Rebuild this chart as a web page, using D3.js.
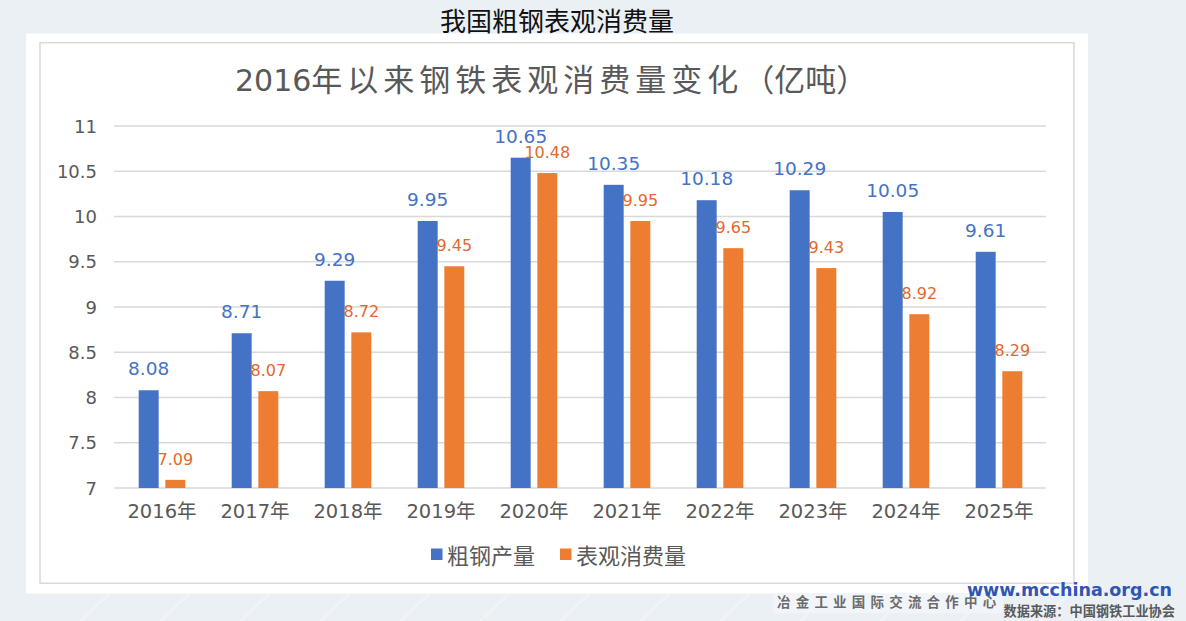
<!DOCTYPE html>
<html>
<head>
<meta charset="utf-8">
<script src="https://cdn.jsdelivr.net/npm/d3@7.9.0/dist/d3.min.js"></script>
<style>
  html, body { margin: 0; padding: 0; background: #ebf0f4; }
  svg { display: block; }
  text { font-family: "DejaVu Sans", "Noto Sans CJK SC", sans-serif; }
  .cjk { font-family: "Noto Sans CJK SC", sans-serif; }
</style>
</head>
<body>
<svg width="1186" height="621"></svg>
<script>
// chart data (亿吨)
const years = ["2016年", "2017年", "2018年", "2019年", "2020年", "2021年", "2022年", "2023年", "2024年", "2025年"];
const crudeSteel = [8.08, 8.71, 9.29, 9.95, 10.65, 10.35, 10.18, 10.29, 10.05, 9.61];
const apparentUse = [7.09, 8.07, 8.72, 9.45, 10.48, 9.95, 9.65, 9.43, 8.92, 8.29];
const yTicks = [7, 7.5, 8, 8.5, 9, 9.5, 10, 10.5, 11];
const seriesNames = ["粗钢产量", "表观消费量"];
const seriesColors = ["#4472C4", "#ED7D31"];
const labelColors = ["#4472C4", "#E2692C"];

let svg = d3.select("svg");

// page frame
svg.append("rect").attr("x", 0).attr("y", 0).attr("width", 1186).attr("height", 621).attr("fill", "#ebf0f4");

// faint streaks at the bottom
for (let i = 0; i < 14; i++) {
    svg.append("line")
        .attr("x1", 80 + i * 80).attr("y1", 621)
        .attr("x2", 110 + i * 80).attr("y2", 593)
        .attr("stroke", "#f4f7fa").attr("stroke-width", 2).attr("opacity", 0.8);
}

svg.append("rect").attr("x", 26).attr("y", 33.5).attr("width", 1062).attr("height", 560).attr("fill", "#fff");
svg.append("rect").attr("x", 40).attr("y", 42.7).attr("width", 1034).attr("height", 540.6)
    .attr("fill", "#fff").attr("stroke", "#d9d9d9").attr("stroke-width", 1.5);

// top heading
svg.append("text")
    .attr("class", "cjk")
    .attr("x", 557).attr("y", 19.5)
    .attr("text-anchor", "middle").attr("dominant-baseline", "central")
    .attr("font-size", 26).attr("fill", "#111")
    .text("我国粗钢表观消费量");

// chart title
let title = svg.append("text")
    .attr("x", 235).attr("y", 91)
    .attr("font-size", 30).attr("fill", "#595959");
title.append("tspan").text("2016");
title.append("tspan").attr("class", "cjk").attr("font-size", 31).attr("letter-spacing", 5).text("年以来钢铁表观消费量变化");
title.append("tspan").attr("class", "cjk").attr("font-size", 31).text("（亿吨）");

// scales
let x = d3.scaleBand().domain(years).range([115.5, 1045.5]);
let xSeries = d3.scaleBand().domain([0, 1])
    .range([x.bandwidth() / 2 - 23.3, x.bandwidth() / 2 + 23.3])
    .paddingInner(0.25);
let y = d3.scaleLinear().domain([7, 11]).range([488, 126]);

// gridlines
svg.append("g")
    .selectAll("line")
    .data(yTicks)
    .join("line")
    .attr("x1", 114).attr("x2", 1046)
    .attr("y1", d => y(d)).attr("y2", d => y(d))
    .attr("stroke", "#d9d9d9").attr("stroke-width", 1.3);

// y tick labels
svg.append("g")
    .selectAll("text")
    .data(yTicks)
    .join("text")
    .attr("x", 97).attr("y", d => y(d))
    .attr("text-anchor", "end").attr("dominant-baseline", "central")
    .attr("font-size", 18).attr("fill", "#595959")
    .text(d => d);

// x labels
svg.append("g")
    .selectAll("text")
    .data(years)
    .join("text")
    .attr("x", d => x(d) + x.bandwidth() / 2).attr("y", 518)
    .attr("text-anchor", "middle")
    .attr("font-size", 19.5).attr("fill", "#595959")
    .text(d => d);

// bars + value labels
[crudeSteel, apparentUse].forEach((values, s) => {
    let g = svg.append("g");
    g.selectAll("rect")
        .data(values)
        .join("rect")
        .attr("x", (d, i) => x(years[i]) + xSeries(s))
        .attr("y", d => y(d))
        .attr("width", xSeries.bandwidth())
        .attr("height", d => y(7) - y(d))
        .attr("fill", seriesColors[s]);

    g.selectAll("text")
        .data(values)
        .join("text")
        .attr("x", (d, i) => x(years[i]) + xSeries(s) + xSeries.bandwidth() / 2)
        .attr("y", d => y(d) - 15)
        .attr("text-anchor", "middle")
        .attr("font-size", s === 0 ? 18.5 : 16)
        .attr("fill", labelColors[s])
        .text(d => d.toFixed(2));
});

// legend
let legendPos = [431, 560];
seriesNames.forEach((name, s) => {
    svg.append("rect")
        .attr("x", legendPos[s]).attr("y", 548.5)
        .attr("width", 11.5).attr("height", 11.5)
        .attr("fill", seriesColors[s]);
    svg.append("text")
        .attr("class", "cjk")
        .attr("x", legendPos[s] + 16).attr("y", 554)
        .attr("dominant-baseline", "central")
        .attr("font-size", 22).attr("fill", "#595959")
        .text(name);
});

// watermark / source
svg.append("rect").attr("x", 773).attr("y", 593.3).attr("width", 230).attr("height", 20).attr("fill", "#f1f4f8");
svg.append("text")
    .attr("class", "cjk")
    .attr("x", 777).attr("y", 601)
    .attr("dominant-baseline", "central")
    .attr("font-size", 13.5).attr("font-weight", "bold")
    .attr("letter-spacing", 5.2).attr("fill", "#6b6b6b")
    .text("冶金工业国际交流合作中心");
svg.append("text")
    .attr("x", 1172).attr("y", 590)
    .attr("text-anchor", "end").attr("dominant-baseline", "central")
    .attr("font-family", "Liberation Sans, sans-serif")
    .attr("font-size", 17.5).attr("font-weight", "bold").attr("fill", "#2f55b5")
    .text("www.mcchina.org.cn");
svg.append("text")
    .attr("class", "cjk")
    .attr("x", 1175).attr("y", 610)
    .attr("text-anchor", "end").attr("dominant-baseline", "central")
    .attr("font-size", 13.2).attr("font-weight", "bold").attr("fill", "#5a5a5a")
    .text("数据来源：中国钢铁工业协会");
</script>
</body>
</html>
